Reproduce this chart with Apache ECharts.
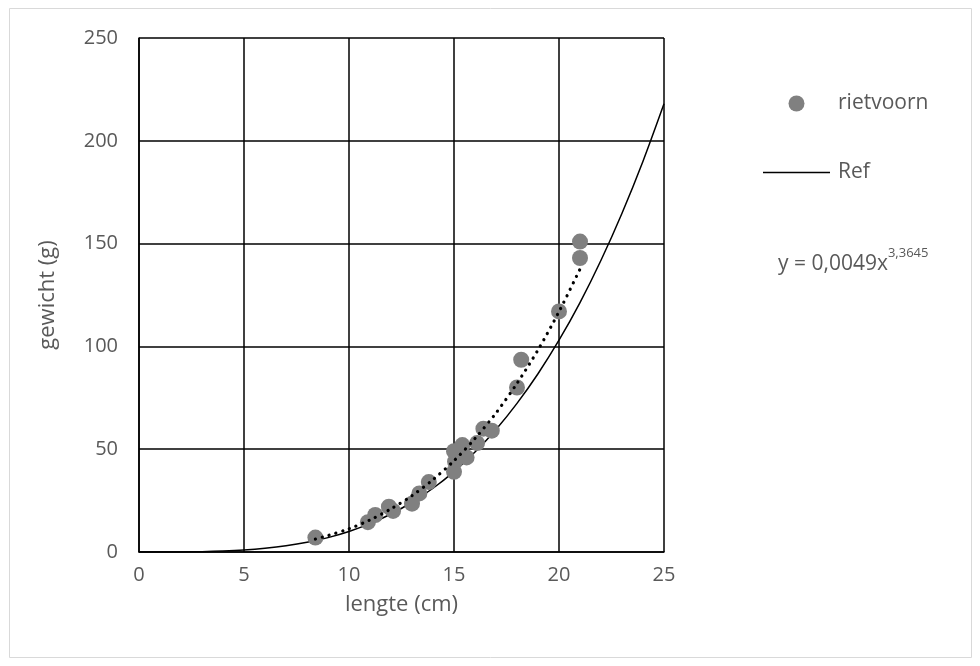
<!DOCTYPE html>
<html>
<head>
<meta charset="utf-8">
<script src="https://cdn.jsdelivr.net/npm/echarts@6/dist/echarts.min.js"></script>
<style>html,body{margin:0;padding:0;background:#fff;}#c{width:980px;height:666px;}</style>
</head>
<body>
<div id="c"></div>
<script>
// Observations (lengte cm, gewicht g)
const fishLength = [8.4, 10.9, 11.25, 11.9, 12.1, 13.0, 13.35, 13.8, 15.0, 15.05, 15.0, 15.4, 15.6, 15.3, 16.1, 16.4, 16.8, 18.0, 18.2, 20.0, 21.0, 21.0];
const fishWeight = [7, 14.5, 18, 22, 20, 23.5, 28.5, 34, 39, 44, 49, 52, 46, 48, 53, 60, 59, 80, 93.5, 117, 143, 151];

// Reference curve
const refLength = [0, 1, 2, 3, 4, 5, 6, 7, 8, 9, 10, 11, 12, 13, 14, 15, 16, 17, 18, 19, 20, 21, 22, 23, 24, 25];
const refWeight = [0, 0.004, 0.045, 0.17, 0.46, 0.97, 1.8, 3.0, 4.7, 7.0, 10.0, 13.8, 18.5, 24.2, 31.0, 39.1, 48.6, 59.6, 72.3, 86.7, 103.0, 121.3, 141.9, 164.8, 190.1, 218.0];

// Power trendline (dotted)
const trendLength = [8.4, 9, 10, 11, 12, 13, 14, 15, 16, 17, 18, 19, 20, 21];
const trendWeight = [6.3, 8.0, 11.3, 15.6, 21.0, 27.4, 35.2, 44.4, 55.2, 67.6, 82.0, 98.3, 116.9, 137.6];

const xTicks = [0, 5, 10, 15, 20, 25];
const yTicks = [0, 50, 100, 150, 200, 250];

const FONT = 'Open Sans';
const GREY_TEXT = '#595959';

const zip = (a, b) => a.map((v, i) => [v, b[i]]);

const chart = echarts.init(document.getElementById('c'), null, {renderer: 'canvas'});
chart.setOption({
  backgroundColor: '#fff',
  animation: false,
  textStyle: {fontFamily: FONT},
  grid: {left: 139, top: 38, right: 316, bottom: 114, containLabel: false},
  legend: {
    data: [
      {name: 'rietvoorn', icon: 'circle'},
      {name: 'Ref', icon: 'path://M0,0 L134,0 L134,3 L0,3 Z'}
    ],
    orient: 'vertical',
    left: 763,
    top: 93,
    padding: 0,
    itemWidth: 67,
    itemHeight: 16,
    itemGap: 48,
    textStyle: {fontFamily: FONT, fontSize: 21, color: GREY_TEXT, padding: [0, 0, 0, 3]},
    selectedMode: false
  },
  xAxis: {
    type: 'value',
    min: xTicks[0],
    max: xTicks[xTicks.length - 1],
    interval: 5,
    name: 'lengte (cm)',
    nameLocation: 'middle',
    nameGap: 42,
    nameTextStyle: {fontFamily: FONT, fontSize: 22, color: GREY_TEXT},
    axisLine: {show: true, lineStyle: {color: '#000', width: 1.5}},
    axisTick: {show: false},
    axisLabel: {fontFamily: FONT, fontSize: 20, color: GREY_TEXT, margin: 13},
    splitLine: {show: true, lineStyle: {color: '#000', width: 1.5}}
  },
  yAxis: {
    type: 'value',
    min: yTicks[0],
    max: yTicks[yTicks.length - 1],
    interval: 50,
    name: 'gewicht (g)',
    nameLocation: 'middle',
    nameGap: 80,
    nameTextStyle: {fontFamily: FONT, fontSize: 22, color: GREY_TEXT},
    axisLine: {show: true, lineStyle: {color: '#000', width: 1.5}},
    axisTick: {show: false},
    axisLabel: {fontFamily: FONT, fontSize: 20, color: GREY_TEXT, margin: 21},
    splitLine: {show: true, lineStyle: {color: '#000', width: 1.5}}
  },
  series: [
    {
      name: 'Ref',
      type: 'line',
      data: zip(refLength, refWeight),
      smooth: 0.3,
      symbol: 'none',
      showSymbol: false,
      lineStyle: {color: '#000', width: 1.5},
      itemStyle: {color: '#000'},
      z: 2
    },
    {
      name: 'rietvoorn',
      type: 'scatter',
      data: zip(fishLength, fishWeight),
      symbol: 'circle',
      symbolSize: 16,
      itemStyle: {color: '#808080', opacity: 1},
      z: 3
    },
    {
      name: 'trend',
      type: 'line',
      data: zip(trendLength, trendWeight),
      smooth: 0.3,
      symbol: 'none',
      showSymbol: false,
      lineStyle: {color: '#000', width: 3.2, type: [0.1, 7], cap: 'round'},
      z: 4
    }
  ],
  graphic: [
    {
      type: 'rect',
      shape: {x: 9.5, y: 8.5, width: 962, height: 649},
      style: {fill: 'none', stroke: '#d9d9d9', lineWidth: 1},
      silent: true,
      z: -1
    },
    {
      type: 'text',
      left: 778,
      top: 247,
      style: {
        text: '{a|y = 0,0049x}{b|3,3645}',
        rich: {
          a: {fontFamily: FONT, fontSize: 21, fill: GREY_TEXT, color: GREY_TEXT, verticalAlign: 'bottom', lineHeight: 28},
          b: {fontFamily: FONT, fontSize: 13, fill: GREY_TEXT, color: GREY_TEXT, verticalAlign: 'top', lineHeight: 28, padding: [0, 0, 12, 0]}
        }
      }
    }
  ]
});
</script>
</body>
</html>
